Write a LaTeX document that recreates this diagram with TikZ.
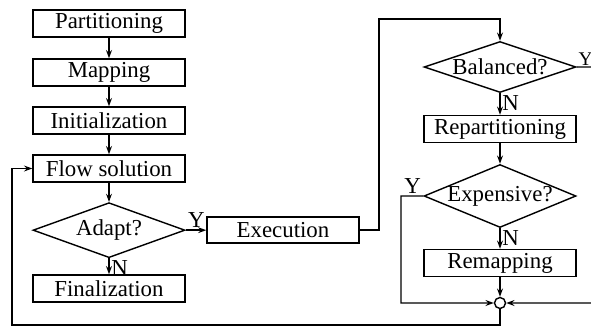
\documentclass[tikz,border=0pt]{standalone}
\usepackage{fontspec}
\setmainfont{Liberation Serif}
\usetikzlibrary{positioning, arrows.meta, shapes.geometric}
\tikzset{
	->, % Arcos dirigidos
	>={Stealth[length=7pt, width=5pt]}, % Punta de flecha
	node distance=1.44cm, % Distancia entre centros
	caja/.style={draw, rectangle, minimum width=4.56cm, minimum height=0.81cm, inner sep=0pt}, % Pasos
	rombo/.style={draw, diamond, minimum width=4.56cm, inner sep=0pt}, % Decisiones
	union/.style={draw, circle, minimum size=0.33cm, inner sep=0pt}, % Punto de union
	marca/.style={inner sep=1.5pt}, % Texto N
	marcay/.style={inner sep=1pt, font=\fontsize{16.5}{18}\selectfont} % Texto Y
}

\begin{document}
\begin{tikzpicture}[font=\fontsize{19.5}{22}\selectfont, line width=1.2pt]
				\useasboundingbox (0,0) rectangle (17.73,-9.9);
				\clip (0,0) rectangle (17.73,-9.9);
				
				\node[caja] (part) at (3.27,-0.705) {Partitioning};
				\node[caja, below of=part, node distance=1.47cm] (map) {Mapping};
				\node[caja, below of=map] (init) {Initialization};
				\node[caja, below of=init] (flow) {Flow solution};
				\node[rombo, minimum height=1.65cm, below of=flow, node distance=1.85cm, label=center:Adapt?] (adapt) {};
				\node[caja, below of=adapt, node distance=1.75cm] (fin) {Finalization};
				\node[caja, right of=adapt, node distance=5.22cm, minimum height=0.78cm] (exec) {Execution};
				
				\node[rombo, minimum height=1.53cm, label=center:Balanced?] (bal) at (15.0,-2.01) {};
				\node[caja, below of=bal, node distance=1.86cm] (repart) {Repartitioning};
				\node[rombo, minimum height=1.89cm, below of=repart, node distance=2.01cm, label=center:Expensive?] (exp) {};
				\node[caja, below of=exp, node distance=2.01cm] (remap) {Remapping};
				\node[union, below of=remap, node distance=1.2cm] (join) {};
				
				\coordinate (top) at (11.37,-0.57);
				\coordinate (izq) at (12.03,-9.09);
				\coordinate (der) at (18.2,-9.09);
				\coordinate (bl) at (0.36,-9.75);
				
				\draw	(part) edge (map)
						(map) edge (init)
						(init) edge (flow)
						(flow) edge (adapt)
						(adapt) edge node[marca, pos=0, above right] (ya) {Y} (exec)
						(adapt) edge node[marca, pos=0, below right] (na) {N} (fin)
						(bal) edge node[marca, pos=0, below right] (nb) {N} (repart)
						(repart) edge (exp)
						(exp) edge node[marca, pos=0, below right] (ne) {N} (remap)
						(remap) edge (join);
				
				\draw[->] (exec.east) -| (top) -| (bal.north);
				\draw[->] (bal.east) -| node[marcay, pos=0, above right] (yb) {Y} (der) -- (join.east);
				\draw[->] (exp.west) -| node[marca, pos=0, above left] (ye) {Y} (izq) -- (join.west);
				\draw[->] (join.south) |- (bl) |- (flow.west);
			\end{tikzpicture}
\end{document}
